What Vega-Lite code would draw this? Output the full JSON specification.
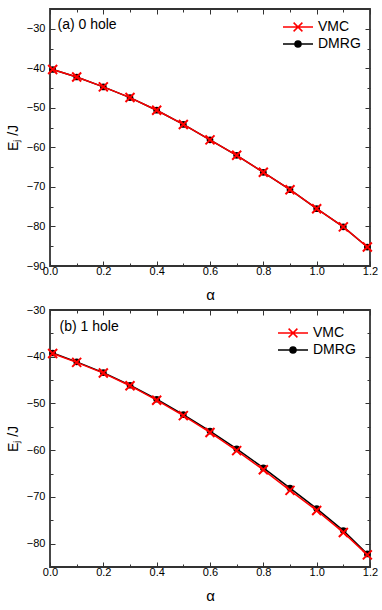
{
  "$schema": "https://vega.github.io/schema/vega-lite/v6.json",
  "padding": {"left": 5, "top": 2, "right": 5, "bottom": 5},
  "spacing": 0,
  "datasets": {
    "energies": [
      {"panel": "a", "series": "VMC", "alpha": 0.01, "E": -40.3},
      {"panel": "a", "series": "VMC", "alpha": 0.1, "E": -42.2},
      {"panel": "a", "series": "VMC", "alpha": 0.2, "E": -44.7},
      {"panel": "a", "series": "VMC", "alpha": 0.3, "E": -47.4},
      {"panel": "a", "series": "VMC", "alpha": 0.4, "E": -50.6},
      {"panel": "a", "series": "VMC", "alpha": 0.5, "E": -54.2},
      {"panel": "a", "series": "VMC", "alpha": 0.6, "E": -58.1},
      {"panel": "a", "series": "VMC", "alpha": 0.7, "E": -62.0},
      {"panel": "a", "series": "VMC", "alpha": 0.8, "E": -66.3},
      {"panel": "a", "series": "VMC", "alpha": 0.9, "E": -70.7},
      {"panel": "a", "series": "VMC", "alpha": 1.0, "E": -75.5},
      {"panel": "a", "series": "VMC", "alpha": 1.1, "E": -80.1},
      {"panel": "a", "series": "VMC", "alpha": 1.19, "E": -85.2},
      {"panel": "a", "series": "DMRG", "alpha": 0.01, "E": -40.3},
      {"panel": "a", "series": "DMRG", "alpha": 0.1, "E": -42.2},
      {"panel": "a", "series": "DMRG", "alpha": 0.2, "E": -44.7},
      {"panel": "a", "series": "DMRG", "alpha": 0.3, "E": -47.4},
      {"panel": "a", "series": "DMRG", "alpha": 0.4, "E": -50.6},
      {"panel": "a", "series": "DMRG", "alpha": 0.5, "E": -54.2},
      {"panel": "a", "series": "DMRG", "alpha": 0.6, "E": -58.1},
      {"panel": "a", "series": "DMRG", "alpha": 0.7, "E": -62.0},
      {"panel": "a", "series": "DMRG", "alpha": 0.8, "E": -66.3},
      {"panel": "a", "series": "DMRG", "alpha": 0.9, "E": -70.7},
      {"panel": "a", "series": "DMRG", "alpha": 1.0, "E": -75.5},
      {"panel": "a", "series": "DMRG", "alpha": 1.1, "E": -80.1},
      {"panel": "a", "series": "DMRG", "alpha": 1.19, "E": -85.2},
      {"panel": "b", "series": "VMC", "alpha": 0.01, "E": -39.3},
      {"panel": "b", "series": "VMC", "alpha": 0.1, "E": -41.2},
      {"panel": "b", "series": "VMC", "alpha": 0.2, "E": -43.5},
      {"panel": "b", "series": "VMC", "alpha": 0.3, "E": -46.2},
      {"panel": "b", "series": "VMC", "alpha": 0.4, "E": -49.3},
      {"panel": "b", "series": "VMC", "alpha": 0.5, "E": -52.6},
      {"panel": "b", "series": "VMC", "alpha": 0.6, "E": -56.2},
      {"panel": "b", "series": "VMC", "alpha": 0.7, "E": -60.1},
      {"panel": "b", "series": "VMC", "alpha": 0.8, "E": -64.2},
      {"panel": "b", "series": "VMC", "alpha": 0.9, "E": -68.6},
      {"panel": "b", "series": "VMC", "alpha": 1.0, "E": -72.9},
      {"panel": "b", "series": "VMC", "alpha": 1.1, "E": -77.6},
      {"panel": "b", "series": "VMC", "alpha": 1.19, "E": -82.4},
      {"panel": "b", "series": "DMRG", "alpha": 0.01, "E": -39.2},
      {"panel": "b", "series": "DMRG", "alpha": 0.1, "E": -41.1},
      {"panel": "b", "series": "DMRG", "alpha": 0.2, "E": -43.4},
      {"panel": "b", "series": "DMRG", "alpha": 0.3, "E": -46.1},
      {"panel": "b", "series": "DMRG", "alpha": 0.4, "E": -49.1},
      {"panel": "b", "series": "DMRG", "alpha": 0.5, "E": -52.4},
      {"panel": "b", "series": "DMRG", "alpha": 0.6, "E": -55.9},
      {"panel": "b", "series": "DMRG", "alpha": 0.7, "E": -59.7},
      {"panel": "b", "series": "DMRG", "alpha": 0.8, "E": -63.8},
      {"panel": "b", "series": "DMRG", "alpha": 0.9, "E": -68.1},
      {"panel": "b", "series": "DMRG", "alpha": 1.0, "E": -72.5},
      {"panel": "b", "series": "DMRG", "alpha": 1.1, "E": -77.2},
      {"panel": "b", "series": "DMRG", "alpha": 1.19, "E": -82.2}
    ]
  },
  "vconcat": [
    {
      "width": 320,
      "height": 257,
      "data": {"name": "energies"},
      "transform": [{"filter": "datum.panel === 'a'"}],
      "layer": [
        {
          "transform": [{"filter": "datum.series === 'DMRG'"}],
          "mark": {"type": "line", "color": "#000", "strokeWidth": 1.5},
          "encoding": {
            "x": {"field": "alpha", "type": "quantitative", "scale": {"domain": [0, 1.2], "nice": false, "zero": false},
              "axis": {"orient": "bottom", "values": [0, 0.1, 0.2, 0.3, 0.4, 0.5, 0.6, 0.7, 0.8, 0.9, 1.0, 1.1, 1.2], "format": ".1f",
                "labelExpr": "round(datum.value * 10) % 2 === 0 ? datum.label : ''",
                "tickSize": {"condition": {"test": "round(datum.value * 10) % 2 === 0", "value": -5}, "value": -3},
                "labelPadding": 4, "labelFlush": false, "labelOverlap": false, "title": "α", "titleFontSize": 15, "titlePadding": 9}},
            "y": {"field": "E", "type": "quantitative", "scale": {"domain": [-90, -25], "nice": false, "zero": false},
              "axis": {"orient": "left", "values": [-90, -85, -80, -75, -70, -65, -60, -55, -50, -45, -40, -35, -30, -25], "format": "d",
                "labelExpr": "datum.value % 10 === 0 ? datum.label : ''",
                "tickSize": {"condition": {"test": "datum.value % 10 === 0", "value": -5}, "value": -3},
                "labelPadding": 10, "labelOverlap": false, "title": "Eⱼ /J", "titlePadding": 6}}
          }
        },
        {
          "transform": [{"filter": "datum.series === 'DMRG'"}],
          "mark": {"type": "point", "shape": "circle", "filled": true, "color": "#000", "size": 45, "opacity": 1},
          "encoding": {
            "x": {"field": "alpha", "type": "quantitative", "axis": null},
            "y": {"field": "E", "type": "quantitative", "axis": null}
          }
        },
        {
          "transform": [{"filter": "datum.series === 'VMC'"}],
          "mark": {"type": "line", "color": "#ff0000", "strokeWidth": 1.5},
          "encoding": {
            "x": {"field": "alpha", "type": "quantitative", "axis": null},
            "y": {"field": "E", "type": "quantitative", "axis": null}
          }
        },
        {
          "transform": [{"filter": "datum.series === 'VMC'"}],
          "mark": {"type": "point", "shape": "M-1,-1L1,1M-1,1L1,-1", "filled": false, "stroke": "#ff0000", "strokeWidth": 2, "size": 81, "opacity": 1},
          "encoding": {
            "x": {"field": "alpha", "type": "quantitative", "axis": null},
            "y": {"field": "E", "type": "quantitative", "axis": null}
          }
        },
        {
          "transform": [{"filter": "datum.series === 'VMC' && datum.alpha === 0.01"}],
          "mark": {"type": "text", "text": "(a) 0 hole", "align": "left", "baseline": "middle", "fontSize": 14, "font": "Liberation Sans", "color": "#000"},
          "encoding": {
            "x": {"datum": 0.028, "type": "quantitative", "axis": null},
            "y": {"datum": -29, "type": "quantitative", "axis": null}
          }
        },
        {
          "transform": [{"filter": "datum.series === 'none'"}],
          "mark": {"type": "point", "filled": true, "strokeWidth": 1.5, "opacity": 1},
          "encoding": {
            "x": {"field": "alpha", "type": "quantitative",
              "axis": {"orient": "top", "values": [0, 0.1, 0.2, 0.3, 0.4, 0.5, 0.6, 0.7, 0.8, 0.9, 1.0, 1.1, 1.2], "labels": false, "title": null,
                "tickSize": {"condition": {"test": "round(datum.value * 10) % 2 === 0", "value": -5}, "value": -3}}},
            "y": {"field": "E", "type": "quantitative",
              "axis": {"orient": "right", "values": [-90, -85, -80, -75, -70, -65, -60, -55, -50, -45, -40, -35, -30, -25], "labels": false, "title": null,
                "tickSize": {"condition": {"test": "datum.value % 10 === 0", "value": -5}, "value": -3}}},
            "fill": {"field": "series", "type": "nominal", "scale": {"domain": ["VMC", "DMRG"], "range": ["#ff0000", "#000000"]}, "legend": {"orient": "top-right", "offset": 9, "title": null}},
            "stroke": {"field": "series", "type": "nominal", "scale": {"domain": ["VMC", "DMRG"], "range": ["#ff0000", "#000000"]}, "legend": {"orient": "top-right", "offset": 9, "title": null}},
            "shape": {"field": "series", "type": "nominal", "scale": {"domain": ["VMC", "DMRG"], "range": ["M-1.875,0H1.875M-0.55,-0.55L0.55,0.55M-0.55,0.55L0.55,-0.55", "M-1.875,0H1.875M0.38,0A0.38,0.38,0,1,1,-0.38,0A0.38,0.38,0,1,1,0.38,0Z"]}, "legend": {"orient": "top-right", "offset": 9, "title": null}}
          }
        }
      ],
      "resolve": {"axis": {"x": "independent", "y": "independent"}}
    },
    {
      "width": 320,
      "height": 257,
      "data": {"name": "energies"},
      "transform": [{"filter": "datum.panel === 'b'"}],
      "layer": [
        {
          "transform": [{"filter": "datum.series === 'DMRG'"}],
          "mark": {"type": "line", "color": "#000", "strokeWidth": 1.5},
          "encoding": {
            "x": {"field": "alpha", "type": "quantitative", "scale": {"domain": [0, 1.2], "nice": false, "zero": false},
              "axis": {"orient": "bottom", "values": [0, 0.1, 0.2, 0.3, 0.4, 0.5, 0.6, 0.7, 0.8, 0.9, 1.0, 1.1, 1.2], "format": ".1f",
                "labelExpr": "round(datum.value * 10) % 2 === 0 ? datum.label : ''",
                "tickSize": {"condition": {"test": "round(datum.value * 10) % 2 === 0", "value": -5}, "value": -3},
                "labelPadding": 4, "labelFlush": false, "labelOverlap": false, "title": "α", "titleFontSize": 15, "titlePadding": 9}},
            "y": {"field": "E", "type": "quantitative", "scale": {"domain": [-85, -30], "nice": false, "zero": false},
              "axis": {"orient": "left", "values": [-85, -80, -75, -70, -65, -60, -55, -50, -45, -40, -35, -30], "format": "d",
                "labelExpr": "datum.value % 10 === 0 ? datum.label : ''",
                "tickSize": {"condition": {"test": "datum.value % 10 === 0", "value": -5}, "value": -3},
                "labelPadding": 10, "labelOverlap": false, "title": "Eⱼ /J", "titlePadding": 6}}
          }
        },
        {
          "transform": [{"filter": "datum.series === 'DMRG'"}],
          "mark": {"type": "point", "shape": "circle", "filled": true, "color": "#000", "size": 45, "opacity": 1},
          "encoding": {
            "x": {"field": "alpha", "type": "quantitative", "axis": null},
            "y": {"field": "E", "type": "quantitative", "axis": null}
          }
        },
        {
          "transform": [{"filter": "datum.series === 'VMC'"}],
          "mark": {"type": "line", "color": "#ff0000", "strokeWidth": 1.5},
          "encoding": {
            "x": {"field": "alpha", "type": "quantitative", "axis": null},
            "y": {"field": "E", "type": "quantitative", "axis": null}
          }
        },
        {
          "transform": [{"filter": "datum.series === 'VMC'"}],
          "mark": {"type": "point", "shape": "M-1,-1L1,1M-1,1L1,-1", "filled": false, "stroke": "#ff0000", "strokeWidth": 2, "size": 81, "opacity": 1},
          "encoding": {
            "x": {"field": "alpha", "type": "quantitative", "axis": null},
            "y": {"field": "E", "type": "quantitative", "axis": null}
          }
        },
        {
          "transform": [{"filter": "datum.series === 'VMC' && datum.alpha === 0.01"}],
          "mark": {"type": "text", "text": "(b) 1 hole", "align": "left", "baseline": "middle", "fontSize": 14, "font": "Liberation Sans", "color": "#000"},
          "encoding": {
            "x": {"datum": 0.036, "type": "quantitative", "axis": null},
            "y": {"datum": -33.7, "type": "quantitative", "axis": null}
          }
        },
        {
          "transform": [{"filter": "datum.series === 'none'"}],
          "mark": {"type": "point", "filled": true, "strokeWidth": 1.5, "opacity": 1},
          "encoding": {
            "x": {"field": "alpha", "type": "quantitative",
              "axis": {"orient": "top", "values": [0, 0.1, 0.2, 0.3, 0.4, 0.5, 0.6, 0.7, 0.8, 0.9, 1.0, 1.1, 1.2], "labels": false, "title": null,
                "tickSize": {"condition": {"test": "round(datum.value * 10) % 2 === 0", "value": -5}, "value": -3}}},
            "y": {"field": "E", "type": "quantitative",
              "axis": {"orient": "right", "values": [-85, -80, -75, -70, -65, -60, -55, -50, -45, -40, -35, -30], "labels": false, "title": null,
                "tickSize": {"condition": {"test": "datum.value % 10 === 0", "value": -5}, "value": -3}}},
            "fill": {"field": "series", "type": "nominal", "scale": {"domain": ["VMC", "DMRG"], "range": ["#ff0000", "#000000"]}, "legend": {"orient": "top-right", "offset": 14, "title": null}},
            "stroke": {"field": "series", "type": "nominal", "scale": {"domain": ["VMC", "DMRG"], "range": ["#ff0000", "#000000"]}, "legend": {"orient": "top-right", "offset": 14, "title": null}},
            "shape": {"field": "series", "type": "nominal", "scale": {"domain": ["VMC", "DMRG"], "range": ["M-1.875,0H1.875M-0.55,-0.55L0.55,0.55M-0.55,0.55L0.55,-0.55", "M-1.875,0H1.875M0.38,0A0.38,0.38,0,1,1,-0.38,0A0.38,0.38,0,1,1,0.38,0Z"]}, "legend": {"orient": "top-right", "offset": 14, "title": null}}
          }
        }
      ],
      "resolve": {"axis": {"x": "independent", "y": "independent"}}
    }
  ],
  "resolve": {
    "scale": {"fill": "independent", "stroke": "independent", "shape": "independent"},
    "legend": {"fill": "independent", "stroke": "independent", "shape": "independent"}
  },
  "config": {
    "background": "#ffffff",
    "view": {"stroke": "#333333", "strokeWidth": 1.8},
    "axis": {
      "grid": false, "domain": false,
      "labelFont": "Liberation Sans", "labelFontSize": 11, "labelColor": "#000",
      "titleFont": "Liberation Sans", "titleFontSize": 14, "titleFontWeight": "normal", "titleColor": "#000",
      "tickColor": "#333333", "tickWidth": 1
    },
    "legend": {
      "labelFont": "Liberation Sans", "labelFontSize": 14, "labelColor": "#000",
      "symbolSize": 256, "symbolStrokeWidth": 1.5, "labelOffset": 11, "rowPadding": 0, "padding": 0
    }
  }
}
